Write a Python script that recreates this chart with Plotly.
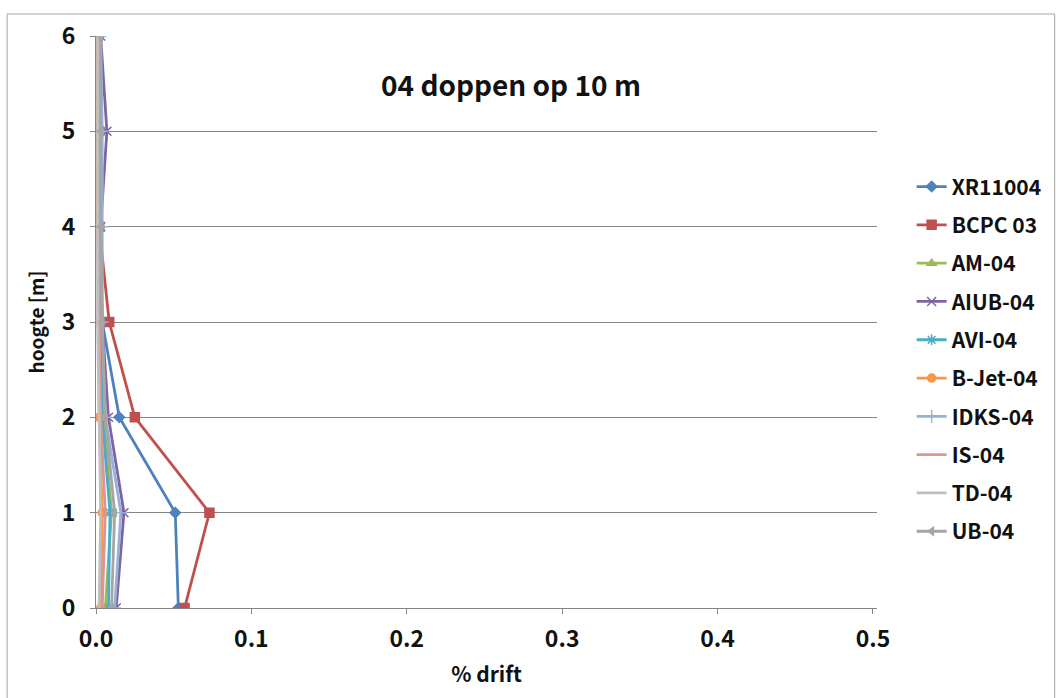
import plotly.graph_objects as go

# Height above ground (m) and spray drift (%) per nozzle
heights = [0, 1, 2, 3, 4, 5, 6]

xr11004 = [0.053, 0.051, 0.015, 0.004, 0.002, 0.002, 0.001]
bcpc_03 = [0.057, 0.073, 0.025, 0.0085, 0.002, 0.002, 0.001]
am_04 = [0.006, 0.010, 0.005, 0.003, 0.002, 0.002, 0.002]
aiub_04 = [0.013, 0.018, 0.008, 0.004, 0.003, 0.007, 0.003]
avi_04 = [0.008, 0.009, 0.004, 0.003, 0.002, 0.003, 0.002]
bjet_04 = [0.003, 0.004, 0.002, 0.002, 0.001, 0.001, 0.001]
idks_04 = [0.012, 0.016, 0.006, 0.004, 0.004, 0.004, 0.003]
is_04 = [0.004, 0.006, 0.003, 0.002, 0.002, 0.002, 0.002]
td_04 = [0.002, 0.003, 0.002, 0.001, 0.001, 0.001, 0.001]
ub_04 = [0.010, 0.012, 0.006, 0.004, 0.003, 0.003, 0.003]

x_ticks = [0.0, 0.1, 0.2, 0.3, 0.4, 0.5]
x_tick_text = ["0.0", "0.1", "0.2", "0.3", "0.4", "0.5"]
y_ticks = [0, 1, 2, 3, 4, 5, 6]

FONT = "Noto Sans CJK JP, Noto Sans, sans-serif"
INK = "#111111"
AXIS = "#868686"

# name, values, colour, marker symbol, marker size
series = [
    ("XR11004", xr11004, "#4F81BD", "diamond", 8),
    ("BCPC 03", bcpc_03, "#C0504D", "square", 9),
    ("AM-04", am_04, "#9BBB59", "triangle-up", 8),
    ("AIUB-04", aiub_04, "#8064A2", "x-thin-open", 9),
    ("AVI-04", avi_04, "#4BACC6", "asterisk-open", 9),
    ("B-Jet-04", bjet_04, "#F79646", "circle", 8),
    ("IDKS-04", idks_04, "#95B3D7", "cross-thin-open", 9),
    ("IS-04", is_04, "#D99694", None, 0),
    ("TD-04", td_04, "#BFBFBF", None, 0),
    ("UB-04", ub_04, "#A5A5A5", "triangle-left", 7),
]

fig = go.Figure()
for i, (name, vals, color, symbol, size) in enumerate(series):
    if symbol is None:
        mode, marker = "lines", None
    else:
        mode = "lines+markers"
        marker = dict(symbol=symbol, size=size, color=color,
                      line=dict(color=color, width=1.5))
    fig.add_trace(go.Scatter(
        x=vals, y=heights, name=f"<b>{name}</b>", mode=mode,
        line=dict(color=color, width=2.8),
        marker=marker, legendgroup=f"g{i}",
    ))

# Outer chart frame
fig.add_shape(type="rect", xref="paper", yref="paper",
              x0=-0.1138, x1=1.2275, y0=-0.17, y1=1.0385,
              line=dict(color="#A6A6A6", width=1), fillcolor="rgba(0,0,0,0)",
              layer="below")

fig.add_annotation(text="<b>04 doppen op 10 m</b>", xref="paper", yref="paper",
                   x=0.531, y=0.916, xanchor="center", yanchor="middle",
                   showarrow=False,
                   font=dict(size=28, color=INK, family=FONT))

fig.update_layout(
    width=1058, height=698,
    margin=dict(l=96, r=180, t=36, b=90),
    paper_bgcolor="white", plot_bgcolor="white",
    font=dict(family=FONT, color=INK),
    showlegend=True,
    legend=dict(x=1.043, y=0.772, xanchor="left", yanchor="top",
                font=dict(size=21, color=INK, family=FONT),
                tracegroupgap=8, bgcolor="rgba(0,0,0,0)",
                itemwidth=30),
)
fig.update_xaxes(
    range=[0, 0.5026], tickmode="array", tickvals=x_ticks,
    ticktext=[f"<b>{t}</b>" for t in x_tick_text],
    showgrid=False, zeroline=False, showline=True, linecolor=AXIS,
    linewidth=1, ticks="outside", ticklen=5, tickcolor=AXIS,
    ticklabelstandoff=5,
    tickfont=dict(size=23, color=INK, family=FONT),
    title=dict(text="<b>% drift</b>", font=dict(size=21, family=FONT), standoff=14),
)
fig.update_yaxes(
    range=[0, 6], tickmode="array", tickvals=y_ticks,
    ticktext=[f"<b>{t}</b>" for t in y_ticks],
    showgrid=True, gridcolor=AXIS, gridwidth=1,
    zeroline=False, showline=True, linecolor=AXIS, linewidth=1,
    ticks="outside", ticklen=5, tickcolor=AXIS,
    ticklabelstandoff=10,
    tickfont=dict(size=23, color=INK, family=FONT),
    title=dict(text="<b>hoogte [m]</b>", font=dict(size=19, family=FONT), standoff=12),
)

fig.write_html("out.html")
